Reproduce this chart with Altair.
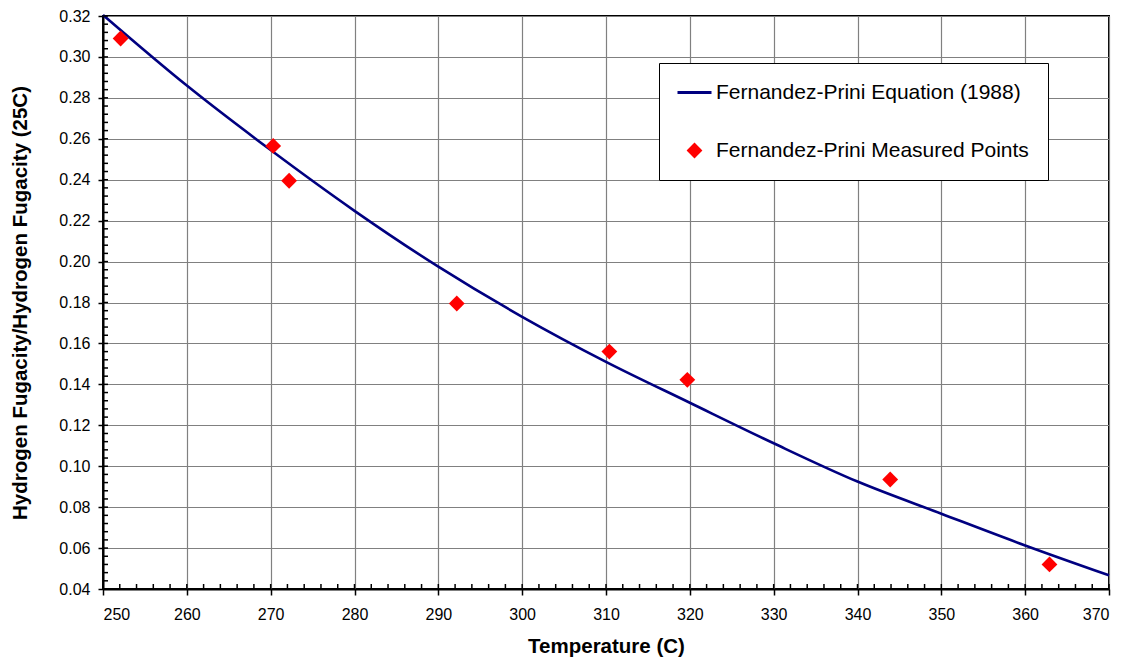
import altair as alt
import pandas as pd

# Fernandez-Prini equation (1988): fugacity ratio vs temperature
curve_temp = [250, 260, 270, 280, 290, 300, 310, 320, 330, 340, 350, 360, 370]
curve_ratio = [0.3205, 0.2860, 0.2545, 0.2248, 0.1975, 0.1730, 0.1510, 0.1310,
               0.1112, 0.0925, 0.0768, 0.0613, 0.0467]

# Fernandez-Prini measured points
meas_temp = [252.1, 270.3, 272.2, 292.2, 310.4, 319.7, 343.9, 362.9]
meas_ratio = [0.3090, 0.2565, 0.2395, 0.1795, 0.1560, 0.1422, 0.0935, 0.0520]

series_names = ["Fernandez-Prini Equation (1988)", "Fernandez-Prini Measured Points"]
series_colors = ["#000080", "#ff0000"]
# a thin horizontal bar stands in for the line in the legend
series_shapes = ["M-2,-0.18H2V0.18H-2Z", "diamond"]

x_minor = list(range(250, 371, 2))
y_minor = [round(0.04 + 0.004 * i, 3) for i in range(71)]

W, H = 1006, 573
FONT = "Liberation Sans"

curve_df = pd.DataFrame({"temp": curve_temp, "ratio": curve_ratio})
meas_df = pd.DataFrame({"temp": meas_temp, "ratio": meas_ratio, "series": series_names[1]})

x_scale = alt.Scale(domain=[250, 370], nice=False, zero=False)
y_scale = alt.Scale(domain=[0.04, 0.32], nice=False, zero=False)

x_axis = alt.Axis(
    title="Temperature (C)", values=list(range(250, 371, 10)), format="d",
    grid=True, gridColor="#808080", gridWidth=1.2, gridOpacity=1,
    domainColor="black", domainWidth=2, tickColor="black", tickWidth=1.5,
    tickSize=6, labelPadding=11, labelFont=FONT, labelFontSize=16,
    labelColor="black", titleFont=FONT, titleFontSize=20.5, titleFontWeight="bold",
    titleColor="black", titleY=63, titleBaseline="alphabetic",
)
y_axis = alt.Axis(
    title="Hydrogen Fugacity/Hydrogen Fugacity (25C)",
    values=[round(0.04 + 0.02 * i, 2) for i in range(15)], format=".2f",
    grid=True, gridColor="#808080", gridWidth=1.2, gridOpacity=1,
    domainColor="black", domainWidth=2, tickColor="black", tickWidth=1.5,
    tickSize=5, labelPadding=8, labelFont=FONT, labelFontSize=16,
    labelColor="black", titleFont=FONT, titleFontSize=20.5, titleFontWeight="bold",
    titleColor="black", titleX=-83, titleBaseline="middle", titleAngle=-90,
)

legend = alt.Legend(
    title=None, orient="none", legendX=556, legendY=47,
    fillColor="white", strokeColor="black", padding=19,
    labelFont=FONT, labelFontSize=21, labelColor="black", labelOffset=11,
    labelLimit=0, rowPadding=36, symbolOpacity=1, symbolStrokeWidth=0,
    symbolOffset=6,
)

line = alt.Chart(curve_df).mark_line(
    color="#000080", strokeWidth=2.6, interpolate="monotone"
).encode(
    x=alt.X("temp:Q", scale=x_scale, axis=x_axis),
    y=alt.Y("ratio:Q", scale=y_scale, axis=y_axis),
)

points = alt.Chart(meas_df).mark_point(filled=True, opacity=1).encode(
    x=alt.X("temp:Q", scale=x_scale),
    y=alt.Y("ratio:Q", scale=y_scale),
    color=alt.Color("series:N", scale=alt.Scale(domain=series_names, range=series_colors), legend=legend),
    shape=alt.Shape("series:N", scale=alt.Scale(domain=series_names, range=series_shapes), legend=legend),
    size=alt.Size("series:O", scale=alt.Scale(domain=series_names, range=[289, 250]), legend=legend),
)

# inward minor ticks along both axes
x_ticks = alt.Chart(pd.DataFrame({"t": x_minor})).mark_rule(color="black", strokeWidth=1.5).encode(
    x=alt.X("t:Q", scale=x_scale), y=alt.value(H), y2=alt.value(H - 5)
)
y_ticks = alt.Chart(pd.DataFrame({"v": y_minor})).mark_rule(color="black", strokeWidth=1.5).encode(
    y=alt.Y("v:Q", scale=y_scale), x=alt.value(0), x2=alt.value(5)
)

chart = alt.layer(line, x_ticks, y_ticks, points).properties(
    width=W, height=H,
    autosize=alt.AutoSizeParams(type="none"),
    padding={"left": 103, "top": 16, "right": 17, "bottom": 69},
    background="white",
).configure_view(stroke="black", strokeWidth=2)

chart.save("out.html", embed_options={"renderer": "svg", "actions": False})
